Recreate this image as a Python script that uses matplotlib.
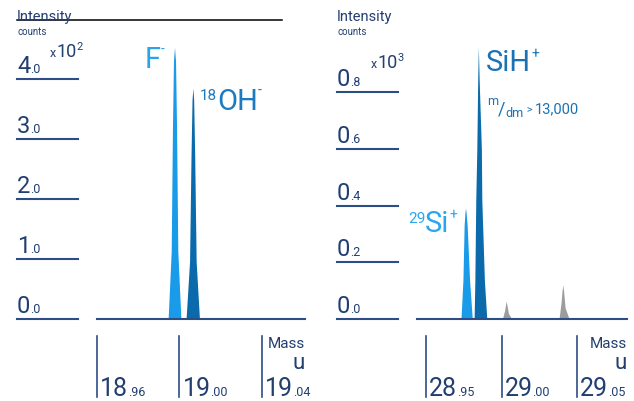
import matplotlib
matplotlib.use('Agg')
import matplotlib.pyplot as plt
from matplotlib.transforms import blended_transform_factory, IdentityTransform
from matplotlib.lines import Line2D

FONT = ['Roboto', 'DejaVu Sans']
W, H = 634, 401

NAVY = '#223f70'
TICK = '#2d4d85'
LIGHT = '#1a9bea'
DARK = '#0b6aab'
GRAY = '#9c9c9c'

# ---- data: left panel (x10^2 counts) ----
left_yticks = [0.0, 1.0, 2.0, 3.0, 4.0]
left_xticks = [18.96, 19.00, 19.04]
f_mass = [18.9945, 18.9960, 18.9966, 18.9971, 18.9976, 18.9981, 18.9986, 18.9992, 19.0007]
f_int = [0.0, 1.13, 3.17, 4.30, 4.53, 4.30, 3.17, 1.13, 0.0]
oh_mass = [19.0032, 19.0049, 19.0056, 19.0061, 19.0065, 19.0069, 19.0074, 19.0081, 19.0097]
oh_int = [0.0, 0.96, 2.70, 3.65, 3.85, 3.65, 2.70, 0.96, 0.0]

# ---- data: right panel (x10^3 counts) ----
right_yticks = [0.0, 0.2, 0.4, 0.6, 0.8]
right_xticks = [28.95, 29.00, 29.05]
si29_mass = [28.9731, 28.9744, 28.9752, 28.9757, 28.9761, 28.9765, 28.9772, 28.9788, 28.9806]
si29_int = [0.0, 0.137, 0.33, 0.375, 0.391, 0.375, 0.33, 0.137, 0.0]
sih_mass = [28.9818, 28.9823, 28.9829, 28.9836, 28.9842, 28.9846, 28.9851, 28.9866, 28.9869, 28.9886, 28.9902]
sih_int = [0.0, 0.137, 0.42, 0.60, 0.85, 0.959, 0.85, 0.60, 0.42, 0.137, 0.0]
g1_mass = [29.0005, 29.0020, 29.0026, 29.0030, 29.0035, 29.0045, 29.0067]
g1_int = [0.0, 0.03, 0.05, 0.063, 0.05, 0.02, 0.0]
g2_mass = [29.0380, 29.0394, 29.0400, 29.0405, 29.0410, 29.0420, 29.0447]
g2_int = [0.0, 0.06, 0.10, 0.12, 0.10, 0.04, 0.0]

fig = plt.figure(figsize=(W / 100, H / 100), dpi=100)
renderer = fig.canvas.get_renderer()


def txt(x, y, s, size, color, **kw):
    return fig.text(x, y, s, transform=IdentityTransform(), fontsize=size, color=color,
                    family=FONT, va='baseline', **kw)


def rich(x, y, parts, color, gap=0):
    # parts: (text, size, rise in px); x, y are display pixels of the baseline start
    for s, size, rise in parts:
        t = txt(x, y + rise, s, size, color, ha='left')
        x = t.get_window_extent(renderer).x1 + gap


def setup(ax, xlim, ylim, yticks, xticks):
    ax.set_xlim(*xlim)
    ax.set_ylim(*ylim)
    for s in ['top', 'right', 'left']:
        ax.spines[s].set_visible(False)
    ax.spines['bottom'].set_color(TICK)
    ax.spines['bottom'].set_linewidth(1.5)
    ax.set_xticks([])
    ax.set_yticks([])
    ax.patch.set_alpha(0)
    bb = ax.get_window_extent(renderer)
    # horizontal tick lines left of the plot
    ty = blended_transform_factory(ax.transAxes, ax.transData)
    x0, x1 = -80 / bb.width, -19 / bb.width
    for v in yticks:
        ax.plot([x0, x1], [v, v], transform=ty, clip_on=False, color=TICK, lw=1.5)
        px, py = ax.transData.transform((xlim[0], v))
        whole, frac = f'{v:.1f}'.split('.')
        rich(bb.x0 - 80, py + 6, [(whole, 17, 0), ('.' + frac, 9, 0)], NAVY)
    # vertical tick lines below the baseline
    tx = blended_transform_factory(ax.transData, ax.transAxes)
    for m in xticks:
        ax.plot([m, m], [-17 / bb.height, -78 / bb.height], transform=tx, clip_on=False,
                color=TICK, lw=1.2)
        px, py = ax.transData.transform((m, 0))
        whole, frac = f'{m:.2f}'.split('.')
        rich(px + 3, 5, [(whole, 18, 0), ('.' + frac, 9, 0)], NAVY)
    txt(bb.x1, H - 348, 'Mass', 11, NAVY, ha='right')
    txt(bb.x1, H - 369, 'u', 16, NAVY, ha='right')
    # axis title
    txt(bb.x0 - 80, H - 21, 'Intensity', 10.5, NAVY, ha='left')
    txt(bb.x0 - 80, H - 35, 'counts', 7, NAVY, ha='left')


# left panel
axl = fig.add_axes([97 / W, (H - 319) / H, 208 / W, 299 / H])
setup(axl, (18.96, 19.0609), (0, 299 / 60), left_yticks, left_xticks)
axl.fill_between(f_mass, f_int, color=LIGHT, lw=0)
axl.fill_between(oh_mass, oh_int, color=DARK, lw=0)
rich(50, H - 57, [('x', 9, 0), ('10', 13, 0), ('2', 8, 7)], NAVY)

# right panel
axr = fig.add_axes([417 / W, (H - 319) / H, 210 / W, 299 / H])
setup(axr, (28.944, 29.083), (0, 299 / 283.75), right_yticks, right_xticks)
axr.fill_between(si29_mass, si29_int, color=LIGHT, lw=0)
axr.fill_between(sih_mass, sih_int, color=DARK, lw=0)
axr.fill_between(g1_mass, g1_int, color=GRAY, lw=0)
axr.fill_between(g2_mass, g2_int, color=GRAY, lw=0)
rich(371, H - 68, [('x', 9, 0), ('10', 13, 0), ('3', 8, 7)], NAVY)

# peak labels
rich(145, H - 68, [('F', 21, 0), ('-', 10, 14)], '#29a3ea')
rich(200, H - 110, [('18', 11, 10), ('OH', 21, 0), ('-', 10, 15)], '#1c7bc0')
rich(486, H - 71, [('SiH', 21, 0), ('+', 10, 13)], '#1a72b6')
rich(487, H - 113, [('m', 9, 8), ('/', 13, -2), ('dm', 9, -4), (' > ', 8, 0), ('13,000', 10.5, 0)], '#1a72b6')
rich(408, H - 232, [('29', 11, 9), ('Si', 21, 0), ('+', 10, 13)], '#2aa6ef')

# stray rule across the top
fig.add_artist(Line2D([17 / W, 282 / W], [1 - 20 / H, 1 - 20 / H], color='black', lw=1.1))

fig.savefig('out.png', dpi=100)
